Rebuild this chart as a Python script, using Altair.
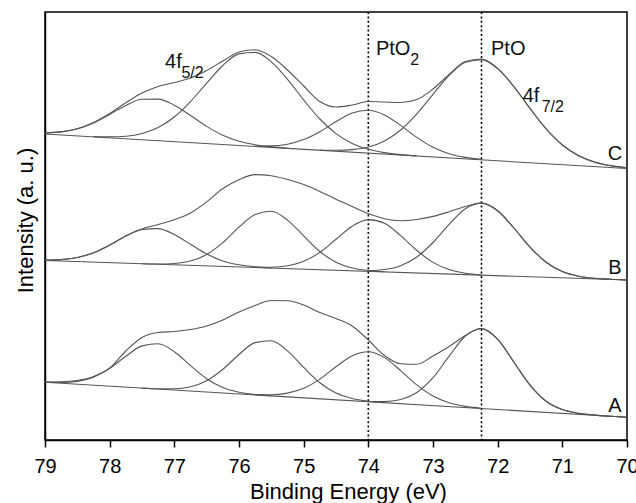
import altair as alt
import pandas as pd

# Binding-energy grid (eV) shared by every curve
energy = [79.0, 78.75, 78.5, 78.25, 78.0, 77.75, 77.5, 77.25, 77.0, 76.75, 76.5, 76.25,
          76.0, 75.75, 75.5, 75.25, 75.0, 74.75, 74.5, 74.25, 74.0, 73.75, 73.5, 73.25,
          73.0, 72.75, 72.5, 72.25, 72.0, 71.75, 71.5, 71.25, 71.0, 70.75, 70.5, 70.25, 70.0]

# Measured envelopes (arbitrary intensity units, spectra offset vertically)
env_C = [307.1, 308.1, 311.2, 317.4, 326.5, 337.2, 346.9, 353.5, 357.5, 362.0, 369.5, 379.0,
         388.0, 390.3, 383.5, 370.0, 354.0, 338.5, 333.0, 335.0, 338.5, 338.0, 337.5, 340.5,
         351.0, 365.5, 378.5, 381.0, 371.6, 353.5, 331.7, 311.2, 295.2, 284.5, 278.0, 274.4, 272.3]
env_B = [179.9, 180.4, 182.5, 187.2, 194.9, 204.0, 211.0, 215.5, 220.3, 227.0, 238.1, 251.5,
         260.3, 265.4, 264.3, 260.5, 255.4, 248.6, 240.8, 233.6, 226.4, 221.3, 219.3, 220.5,
         223.6, 228.3, 233.5, 236.9, 229.3, 212.0, 192.9, 177.7, 168.4, 163.8, 161.7, 160.7, 160.0]
env_A = [58.0, 58.2, 59.5, 63.5, 72.0, 89.0, 102.5, 107.5, 108.5, 110.5, 114.0, 120.0,
         128.0, 134.5, 139.5, 139.2, 135.0, 127.5, 121.5, 114.0, 100.0, 84.5, 76.3, 75.8,
         84.0, 93.5, 104.5, 111.5, 100.8, 78.0, 54.9, 38.8, 30.4, 26.6, 24.9, 23.7, 22.7]

# Fitted components: (first energy on the grid, values)
comp_C = {
    "C1": (79.0, [307.1, 308.1, 311.2, 317.1, 325.6, 334.6, 340.7, 340.9, 334.8, 324.5, 313.6,
                  304.7, 298.7, 295.2, 293.1, 291.8]),
    "C2": (78.25, [303.4, 303.1, 303.8, 306.5, 312.4, 323.0, 338.4, 356.9, 374.5, 386.1, 387.6,
                   378.2, 360.7, 340.1, 321.0, 306.4, 296.6, 290.7, 287.4, 285.4, 284.1]),
    "C3": (75.75, [294.0, 294.1, 295.8, 300.4, 308.3, 318.4, 327.0, 329.8, 325.1, 314.6, 302.6,
                   292.7, 286.3, 282.6, 280.6]),
    "C4": (74.75, [290.0, 289.7, 290.4, 293.0, 299.1, 310.0, 326.1, 345.7, 364.7, 377.8, 380.4,
                   371.3, 353.3, 331.5, 311.0, 295.0, 284.3, 277.8, 274.2, 272.1]),
}
comp_B = {
    "B1": (79.0, [179.9, 180.4, 182.5, 187.2, 194.9, 204.0, 210.6, 211.4, 205.4, 195.7, 186.1,
                  179.1, 175.2, 173.1, 172.1]),
    "B2": (77.5, [176.3, 176.0, 176.5, 179.0, 185.5, 197.4, 212.8, 225.5, 228.7, 219.9, 204.1,
                  188.5, 177.8, 172.0, 169.5, 168.3]),
    "B3": (75.75, [172.7, 172.8, 174.3, 178.7, 187.6, 200.7, 213.8, 220.4, 216.7, 204.3, 189.5,
                   177.6, 170.4, 166.8, 165.3]),
    "B4": (74.0, [169.4, 170.5, 174.3, 183.0, 197.5, 215.7, 231.3, 236.9, 229.2, 212.0, 192.9,
                  177.7, 168.4, 163.8, 161.7, 160.7, 160.0]),
}
comp_A = {
    "A1": (79.0, [57.9, 57.5, 58.6, 62.8, 71.6, 83.7, 94.1, 96.3, 88.3, 74.4, 61.3, 52.5, 47.8,
                  45.5, 44.2]),
    "A2": (77.5, [51.9, 51.2, 51.2, 53.2, 59.2, 70.7, 85.5, 97.4, 99.2, 89.1, 72.6, 57.2, 46.9,
                  41.5, 38.8, 37.4]),
    "A3": (75.75, [45.4, 45.3, 46.9, 51.7, 60.9, 73.3, 84.3, 88.3, 82.4, 69.4, 55.1, 44.0, 37.2,
                   33.6, 31.8]),
    "A4": (74.0, [38.5, 38.4, 40.5, 47.5, 62.3, 83.8, 104.0, 111.4, 100.7, 78.0, 54.9, 38.8,
                  30.4, 26.6, 24.9, 23.7, 22.7]),
}

# Linear backgrounds: values at 79 eV and 70 eV
baseline_ends = [79.0, 70.0]
base_C = [306.0, 271.5]
base_B = [179.5, 160.0]
base_A = [57.7, 22.7]

# Reference energies for PtO2 and PtO
ref_lines = [74.0, 72.25]
tick_values = [79, 78, 77, 76, 75, 74, 73, 72, 71, 70]

rows = []


def add(name, xs, ys):
    for x, y in zip(xs, ys):
        rows.append({"curve": name, "energy": x, "intensity": y})


for name, env in (("envC", env_C), ("envB", env_B), ("envA", env_A)):
    add(name, energy, env)
for comps in (comp_C, comp_B, comp_A):
    for name, (start, vals) in comps.items():
        i0 = energy.index(start)
        add(name, energy[i0:i0 + len(vals)], vals)
for name, base in (("bC", base_C), ("bB", base_B), ("bA", base_A)):
    add(name, baseline_ends, base)

curves = pd.DataFrame(rows)

# Annotation text and where it sits (energy, intensity)
big_labels = pd.DataFrame({
    "label": ["4f", "PtO", "PtO", "4f", "C", "B", "A"],
    "energy": [77.144, 73.882, 72.103, 71.613, 70.299, 70.29, 70.29],
    "intensity": [371.7, 385.0, 385.0, 338.3, 280.0, 166.0, 28.3],
})
sub_labels = pd.DataFrame({
    "label": ["5/2", "2", "7/2"],
    "energy": [76.890, 73.350, 71.320],
    "intensity": [361.7, 375.0, 328.3],
})

FONT = "Liberation Sans"

x_enc = alt.X(
    "energy:Q",
    scale=alt.Scale(domain=[70, 79], reverse=True, nice=False, zero=False),
    axis=alt.Axis(
        values=tick_values, format="d", grid=False,
        tickSize=7, tickWidth=1.5, tickColor="black",
        domainColor="black", domainWidth=1.5,
        labelFont=FONT, labelFontSize=20, labelColor="black", labelPadding=9,
        labelFlush=False, labelOverlap=False,
        title="Binding Energy (eV)", titleFont=FONT, titleFontSize=22,
        titleFontWeight="normal", titleColor="black",
        titleX=303, titleY=58, titleAlign="center", titleBaseline="alphabetic",
    ),
)
y_enc = alt.Y(
    "intensity:Q",
    scale=alt.Scale(domain=[0, 428], nice=False, zero=False),
    axis=alt.Axis(
        labels=False, ticks=False, grid=False,
        domainColor="black", domainWidth=1.5,
        title="Intensity (a. u.)", titleFont=FONT, titleFontSize=22,
        titleFontWeight="normal", titleColor="black",
        titleAngle=270, titleX=-13, titleY=208, titleAlign="center",
        titleBaseline="alphabetic",
    ),
)

lines = alt.Chart(curves).mark_line(
    interpolate="monotone", color="#555555", strokeWidth=1.1
).encode(
    x=x_enc, y=y_enc, detail="curve:N",
    order=alt.Order("energy:Q", sort="descending"),
)

rules = alt.Chart(pd.DataFrame({"energy": ref_lines})).mark_rule(
    color="black", strokeWidth=1.6, strokeDash=[2, 2.4]
).encode(x=x_enc)

big_text = alt.Chart(big_labels).mark_text(
    font=FONT, fontSize=20, align="left", baseline="alphabetic", color="#111111"
).encode(x=x_enc, y=y_enc, text="label:N")

sub_text = alt.Chart(sub_labels).mark_text(
    font=FONT, fontSize=16, align="left", baseline="alphabetic", color="#111111"
).encode(x=x_enc, y=y_enc, text="label:N")

chart = alt.layer(rules, lines, big_text, sub_text).properties(
    width=582, height=428,
    autosize=alt.AutoSizeParams(type="none"),
    padding={"left": 45, "top": 12, "right": 9, "bottom": 63},
    background="white",
).configure_view(stroke="black", strokeWidth=1.5)

chart.save("out.html", embed_options={"renderer": "svg", "actions": False})
